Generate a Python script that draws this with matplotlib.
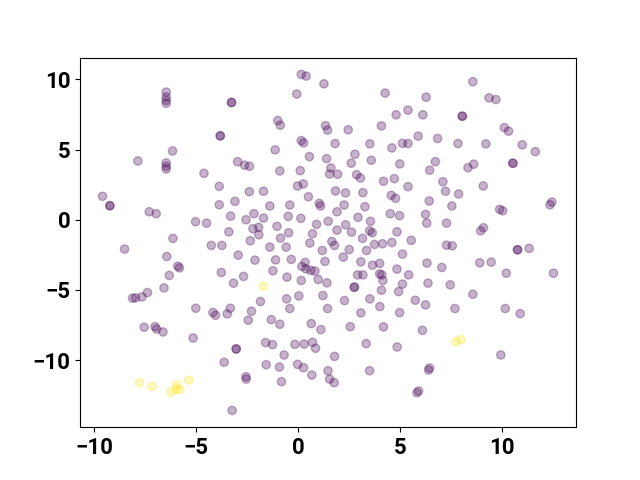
import numpy as np
import matplotlib
matplotlib.use("Agg")
import matplotlib.pyplot as plt

# embedding coordinates, label 0 = purple, 1 = yellow
x0 = [-6.47, -6.47, -6.47, -6.47, -3.27, -3.27, -3.82, -3.82, -6.16, -7.86,
      -6.47, -6.47, -6.47, -2.97, -2.63, -2.39, -4.62, -3.87, -9.59, -9.23,
      -9.23, -3.87, -3.10, -7.30, -6.96, -3.31, -2.56, -5.03, -4.49, -3.40,
      -6.14, -4.26, -3.74,
      0.15, 0.39, 1.26, -0.07, 4.26, 5.38, 4.80, -1.00, -0.88, 1.34,
      1.44, 2.45, 4.08, 0.15, 0.26, -1.13, 1.81, 3.51, 4.59, 5.11,
      5.38, 2.78, 0.55, 1.39, 2.60, 3.58, 4.98, 1.60, 1.54, 1.93,
      0.10, -0.90, 2.86, 3.05, 4.18, 4.71, 5.38, -0.03, 0.25, -2.40,
      -1.70, 0.50, 1.83, 2.32, 3.17, 4.56, 4.77, 1.03, 1.09, 2.25,
      3.27, -0.41, -1.39, -2.17, -1.70, -0.49, 0.13, 1.90, 2.93, 4.51,
      4.97, 1.47, 3.54, -2.22, -1.94, -1.93, -1.04, 0.90, 2.32, -0.47,
      0.70, 1.90, 2.61, 3.50, 3.63, 4.84, -0.87, 3.15,
      -2.35, -1.39, -0.59, 0.57, 1.18, 1.65, 1.78, 2.50, 3.35, 3.74,
      4.13, 4.59, 5.11, -2.94, -2.12, -1.11, -0.34, -1.24, -2.68, -0.55,
      0.15, 0.18, 0.34, 0.38, 0.62, 0.82, 1.31, 0.98, 1.41, 2.21,
      3.07, 3.64, 3.99, 2.91, 3.17, 2.75, 2.75, 3.99, 4.10, 4.15,
      4.84, 5.41, 5.11, 4.92, 4.08, 3.51, 2.27, 1.21, 0.03, -0.57,
      -0.41, 1.44, 4.00, 3.07, 4.97, -1.85, -2.29, -2.45, -1.32, -0.90,
      0.64, 1.11, 2.55, 4.18, -1.60, -1.26, -0.16, 0.29, 0.70, 0.85,
      -0.69, 1.78, 3.33, 4.85, -1.57, -0.92, -0.03, 0.26, 0.67, 1.46,
      1.54, 1.76, -0.82, -2.56, -2.55, 3.50, -3.04, -3.04,
      -8.51, -6.44, -5.90, -5.82, -6.32, -3.77, -3.17, -6.58, -8.12, -7.97,
      -7.66, -7.39, -5.02, -4.18, -4.05, -3.48, -3.33, -7.55, -7.02, -6.94,
      -6.63, -5.15, -3.63, -3.24,
      8.56, 6.27, 9.35, 9.69, 6.11, 8.04, 8.04, 10.10, 10.31, 5.88,
      6.83, 7.83, 9.20, 10.98, 11.62, 6.72, 6.44, 8.32, 8.60, 10.52,
      10.52, 7.09, 7.22, 7.86, 9.07, 6.42, 7.53, 6.24, 6.30, 7.27,
      9.87, 10.02, 12.34, 12.43, 8.94, 9.08, 5.54, 7.27, 7.55,
      10.75, 10.75, 11.32, 6.31, 7.04, 8.90, 9.46, 10.20, 12.51, 6.36,
      7.45, 8.56, 5.74, 6.24, 7.68, 10.15, 10.88, 6.09, 9.93, 6.39,
      6.44, 5.82, 5.90]
y0 = [9.10, 8.75, 8.50, 8.30, 8.36, 8.36, 5.98, 5.98, 4.90, 4.19,
      4.05, 3.81, 3.62, 4.14, 3.89, 3.81, 3.31, 2.38, 1.67, 1.00,
      1.00, 1.07, 1.31, 0.57, 0.43, 0.26, 0.00, -0.14, -0.24, -0.86,
      -1.33, -1.83, -1.83,
      10.36, 10.24, 9.69, 8.96, 9.03, 7.81, 7.48, 7.07, 6.74, 6.71,
      6.39, 6.41, 6.69, 5.64, 5.48, 4.98, 5.43, 5.41, 5.12, 5.45,
      5.43, 4.67, 4.50, 4.36, 4.03, 4.24, 3.98, 3.69, 3.26, 3.24,
      3.50, 3.48, 3.21, 2.98, 2.74, 2.93, 2.36, 2.41, 2.55, 2.00,
      2.03, 1.64, 2.05, 1.91, 1.93, 1.74, 1.53, 1.17, 0.98, 1.05,
      0.93, 1.05, 0.98, 0.43, 0.12, 0.24, 0.10, 0.57, 0.17, 0.43,
      0.29, -0.11, -0.11, -0.64, -0.54, -1.07, -0.47, -0.33, -0.36, -0.93,
      -1.00, -0.74, -0.88, -0.79, -0.93, -0.86, -1.31, -1.33,
      -1.50, -1.95, -1.95, -1.66, -2.19, -1.55, -1.83, -2.12, -2.19, -1.76,
      -1.71, -1.62, -2.45, -2.52, -2.88, -2.86, -2.83, -3.64, -4.04, -4.09,
      -4.33, -3.33, -3.04, -3.50, -3.61, -3.66, -2.97, -4.26, -4.50, -2.66,
      -3.00, -3.24, -3.11, -3.93, -3.93, -4.81, -4.81, -3.86, -3.93, -4.33,
      -3.52, -3.93, -4.59, -5.12, -5.02, -5.64, -5.76, -5.40, -5.43, -5.64,
      -6.33, -6.33, -6.19, -6.64, -6.62, -5.83, -6.52, -7.16, -7.12, -7.45,
      -7.40, -7.83, -7.62, -7.64, -8.76, -8.90, -8.88, -8.86, -8.74, -9.16,
      -9.64, -9.74, -8.83, -9.07, -10.33, -10.50, -10.31, -10.55, -11.07, -10.76,
      -11.36, -11.61, -11.54, -11.19, -11.36, -10.76, -9.21, -9.21,
      -2.09, -2.62, -3.31, -3.43, -3.97, -3.76, -4.52, -4.86, -5.59, -5.57,
      -5.50, -5.19, -6.31, -6.61, -6.81, -6.71, -6.31, -7.66, -7.62, -7.79,
      -8.00, -8.43, -10.16, -13.59,
      9.84, 8.74, 8.69, 8.57, 7.48, 7.38, 7.38, 6.57, 6.31, 5.96,
      5.79, 5.43, 5.41, 5.34, 4.86, 4.14, 3.53, 3.71, 3.96, 4.03,
      4.03, 2.71, 2.03, 1.84, 2.41, 1.34, 0.98, 0.38, -0.24, -0.24,
      0.74, 0.64, 1.07, 1.26, -0.79, -0.57, -1.47, -1.81, -1.86,
      -2.14, -2.14, -2.04, -3.09, -3.40, -3.07, -3.02, -3.81, -3.81, -4.52,
      -4.64, -5.31, -5.74, -6.07, -6.33, -6.33, -6.69, -7.88, -9.64, -10.71,
      -10.57, -12.33, -12.21]

x1 = [-7.78, -7.16, -5.95, -5.98, -5.80, -6.24, -5.36, -1.72, 7.73, 7.98]
y1 = [-11.61, -11.88, -11.76, -12.07, -12.11, -12.29, -11.43, -4.74, -8.69, -8.54]

x = np.array(x0 + x1)
y = np.array(y0 + y1)
labels = np.array([0] * len(x0) + [1] * len(x1))

plt.rcParams['font.family'] = ['Roboto', 'DejaVu Sans']
plt.rcParams['font.weight'] = 'bold'
plt.rcParams['font.size'] = 16

fig, ax = plt.subplots(figsize=(6.4, 4.8), dpi=100)
ax.scatter(x, y, c=labels, cmap='viridis', alpha=0.3)

plt.savefig('out.png')
